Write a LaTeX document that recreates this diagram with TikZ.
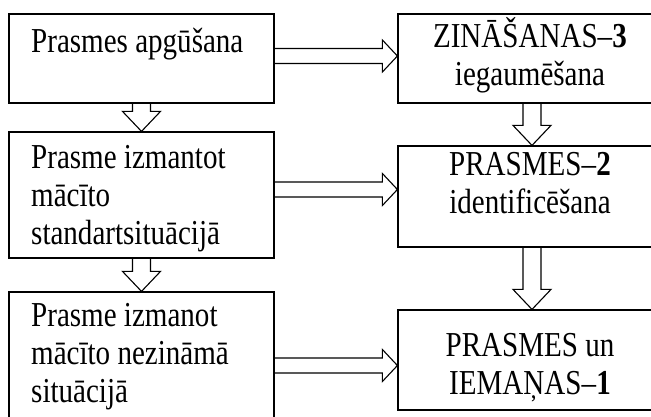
\documentclass[tikz,border=0pt]{standalone}
\usepackage{fontspec}
\setmainfont{Liberation Serif}
\usetikzlibrary{calc}

% narrow (horizontally condensed) line of text
\newcommand{\nar}[1]{\scalebox{0.83}[1]{#1}}

% block arrows drawn between two named boxes
\newcommand{\rightblock}[3]{% from #1 (east side) to #2 (west side) at height #3
  \draw[blockline] let \p1=(#1.east), \p2=(#2.west) in
    (\x1,#3+7.5) -- (\x2-15,#3+7.5) -- (\x2-15,#3+16) -- (\x2,#3)
    -- (\x2-15,#3-16) -- (\x2-15,#3-7.5) -- (\x1,#3-7.5);}
\newcommand{\downblock}[3]{% from #1 (south side) to #2 (north side) at abscissa #3
  \draw[blockline] let \p1=(#1.south), \p2=(#2.north) in
    (#3-9,\y1) -- (#3-9,\y2+20) -- (#3-19,\y2+20) -- (#3,\y2)
    -- (#3+19,\y2+20) -- (#3+9,\y2+20) -- (#3+9,\y1);}

\begin{document}
\begin{tikzpicture}[x=1pt,y=1pt,
    box/.style={draw, line width=1.2pt, inner sep=0pt},
    blockline/.style={line width=1.1pt, line join=miter},
    lefttext/.style={anchor=base west, align=left, inner sep=0pt,
      font=\fontsize{35}{38}\selectfont},
    righttext/.style={anchor=base, align=center, inner sep=0pt,
      font=\fontsize{35}{38}\selectfont}]
  \useasboundingbox (0,0) rectangle (651,417);

  % left column
  \node[box, minimum width=265pt, minimum height=89pt] (l1) at (141.5,358.5) {};
  \node[box, minimum width=265pt, minimum height=126pt] (l2) at (141.5,222) {};
  \node[box, minimum width=265pt, minimum height=133pt] (l3) at (141.5,58.5) {};

  % right column
  \node[box, minimum width=268pt, minimum height=89pt] (r1) at (532,358.5) {};
  \node[box, minimum width=268pt, minimum height=101pt] (r2) at (532,220.5) {};
  \node[box, minimum width=268pt, minimum height=100pt] (r3) at (532,57) {};

  % texts (anchored on the last baseline)
  \node[lefttext] (t1) at (31,364) {\nar{Prasmes apgūšana}};
  \node[lefttext] (t2) at (31,172) {\nar{Prasme izmantot}\\\nar{mācīto}\\\nar{standartsituācijā}};
  \node[lefttext] (t3) at (31,14) {\nar{Prasme izmanot}\\\nar{mācīto nezināmā}\\\nar{situācijā}};
  \node[righttext] (s1) at (530,331) {\nar{ZINĀŠANAS–\textbf{3}}\\\nar{iegaumēšana}};
  \node[righttext] (s2) at (530,203) {\nar{PRASMES–\textbf{2}}\\\nar{identificēšana}};
  \node[righttext] (s3) at (530,22) {\nar{PRASMES un}\\\nar{IEMAŅAS–\textbf{1}}};

  % connectors
  \rightblock{l1}{r1}{361}
  \rightblock{l2}{r2}{227.5}
  \rightblock{l3}{r3}{51.5}
  \downblock{l1}{l2}{141.5}
  \downblock{l2}{l3}{141.5}
  \downblock{r1}{r2}{532}
  \downblock{r2}{r3}{532}
\end{tikzpicture}
\end{document}
